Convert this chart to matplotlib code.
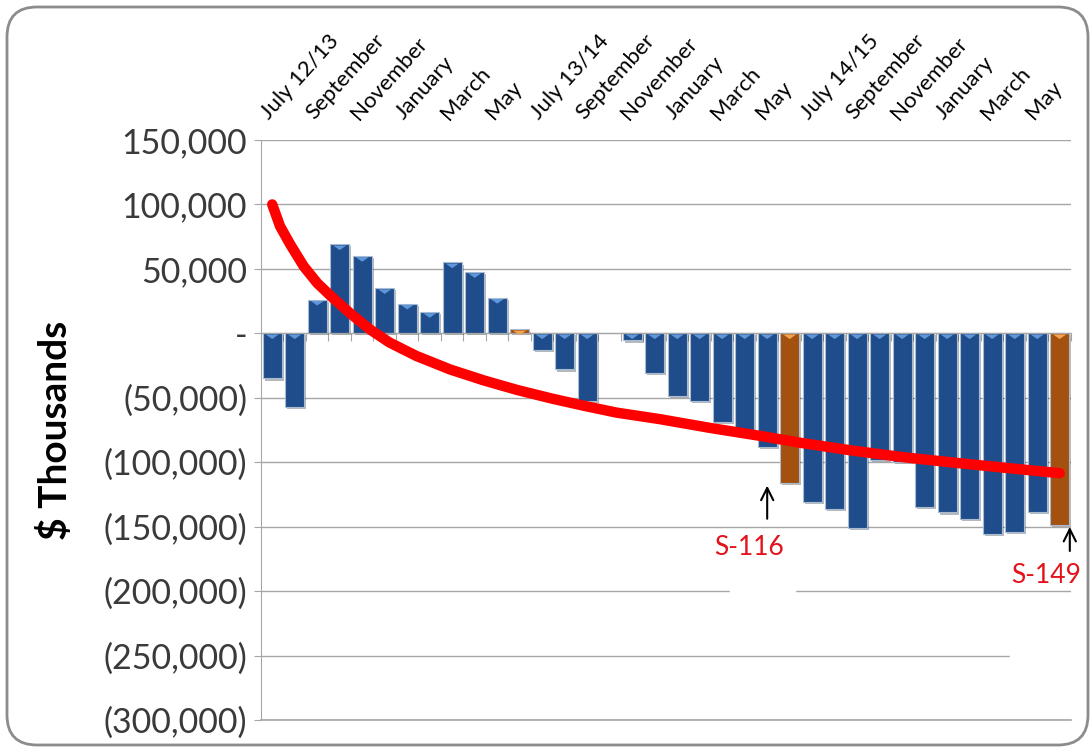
import matplotlib
matplotlib.use('Agg')
import matplotlib.pyplot as plt
import matplotlib.patheffects as pe
from matplotlib.patches import FancyBboxPatch, Rectangle
from matplotlib.ticker import FuncFormatter, FixedLocator
from matplotlib.transforms import offset_copy
import numpy as np

plt.rcParams['font.family'] = ['Lato', 'DejaVu Sans']

# 36 months, July 2012 .. June 2015
months = ['Jul', 'Aug', 'Sep', 'Oct', 'Nov', 'Dec', 'Jan', 'Feb', 'Mar', 'Apr', 'May', 'Jun'] * 3
top_labels = ['July 12/13', 'September', 'November', 'January', 'March', 'May',
              'July 13/14', 'September', 'November', 'January', 'March', 'May',
              'July 14/15', 'September', 'November', 'January', 'March', 'May']

# monthly balance, $ thousands (nan = no bar)
values = [-35000, -57000, 26000, 69000, 60000, 35000, 23000, 16500, 55000, 47500, 27500, 3000,
          -13000, -28000, -52500, np.nan, -5500, -31000, -48500, -52500, -69000, -75000, -88500, -116000,
          -131000, -136000, -151000, -98000, -100000, -134500, -139000, -144000, -156000, -154000, -138500, -149000]

# year-end months (June) drawn in orange
year_end = [11, 23, 35]

# red trend curve (month position, value)
trend_x = [0, 0.35, 0.8, 1.4, 2.0, 2.6, 3.5, 4.35, 5.2, 6.4, 7.9, 9.4, 10.9, 12.4,
           13.8, 15.3, 17.2, 19.5, 21.7, 23.5, 25.8, 28.0, 30.3, 32.5, 35.0]
trend_y = [100000, 83000, 69000, 52000, 39000, 29000, 15000, 3000, -7000, -17500, -28000, -36500, -44000, -50500,
           -56000, -61500, -66500, -73500, -79600, -85000, -91000, -96000, -100300, -104200, -108500]

blue = '#1f4d8b'
orange = '#a4500f'
grid_c = '#a6a6a6'

x = np.arange(len(values))
colors = [orange if i in year_end else blue for i in x]
light = ['#f0a555' if i in year_end else '#5f97da' for i in x]

fig = plt.figure(figsize=(10.91, 7.49), dpi=100)
ax = fig.add_axes([0.2392, 0.0387, 0.7424, 0.7744])

ax.bar(x, values, width=0.84, color=colors, edgecolor='#a9bbd0', linewidth=0.8,
       path_effects=[pe.SimplePatchShadow(offset=(1.5, -1.5), alpha=0.3), pe.Normal()], zorder=2)

# bevel highlight at the top of each bar
vals = np.array(values, dtype=float)
ok = ~np.isnan(vals)
tops = np.maximum(vals, 0)
tri = [(-1, 0), (1, 0), (0, -0.7)]
ax.scatter(x[ok], tops[ok], marker=tri, s=90, c=[light[i] for i in x[ok]], linewidths=0,
           transform=offset_copy(ax.transData, fig=fig, y=-0.8, units='points'), zorder=3)

ax.plot(trend_x, trend_y, color='#ff0000', lw=7.5, solid_capstyle='round',
        solid_joinstyle='round', zorder=5)

ax.set_xlim(-0.5, len(values) - 0.5)
ax.set_ylim(-300000, 150000)
ax.set_yticks(np.arange(-300000, 150001, 50000))


def fmt(v, pos):
    if v == 0:
        return '-'
    if v < 0:
        return '({:,.0f})'.format(-v)
    return '{:,.0f}'.format(v)


ax.yaxis.set_major_formatter(FuncFormatter(fmt))
ax.tick_params(axis='y', labelsize=24.5, labelcolor='#3a3a3a', color=grid_c, length=5, pad=5)
ax.yaxis.grid(True, color=grid_c, lw=1)
ax.axhline(-300000, color=grid_c, lw=1.2, clip_on=False, zorder=0.5)
ax.set_axisbelow(True)

for s in ['top', 'right']:
    ax.spines[s].set_visible(False)
ax.spines['left'].set_color(grid_c)
ax.spines['bottom'].set_position(('data', 0))
ax.spines['bottom'].set_color(grid_c)
ax.xaxis.set_major_locator(FixedLocator(np.arange(-0.5, len(values), 1)))
ax.tick_params(axis='x', labelbottom=False, color=grid_c, length=6, direction='out')

ax.set_ylabel('$ Thousands', fontsize=28, fontweight='bold', color='black')
ax.yaxis.set_label_coords(-0.232, 0.5)

secax = ax.secondary_xaxis('top')
secax.set_xticks(x[::2])
secax.set_xticklabels(top_labels, fontsize=16)
secax.tick_params(length=0, pad=12)
secax.spines['top'].set_visible(False)
for lbl in secax.get_xticklabels():
    lbl.set_rotation(48)
    lbl.set_ha('left')
    lbl.set_va('bottom')
    lbl.set_rotation_mode('anchor')

# white boxes that hide bits of the lower gridlines
ax.add_patch(Rectangle((20.35, -203000), 2.9, 6000, color='white', zorder=1))
ax.add_patch(Rectangle((32.8, -253000), 2.9, 6000, color='white', zorder=1, clip_on=False))

arrow = dict(arrowstyle='->', color='black', lw=1.5, mutation_scale=22)
ax.annotate('', xy=(22.0, -116000), xytext=(22.0, -146000), arrowprops=arrow, zorder=6)
ax.text(21.2, -166000, 'S-116', color='#e3121b', fontsize=19, ha='center', va='center')
ax.annotate('', xy=(35.45, -148000), xytext=(35.45, -171000), arrowprops=arrow,
            annotation_clip=False, zorder=6)
ax.text(34.4, -188000, 'S-149', color='#e3121b', fontsize=19, ha='center', va='center')

frame = FancyBboxPatch((0.07, 0.04), 10.81, 7.38, boxstyle='round,pad=0,rounding_size=0.3',
                       transform=fig.dpi_scale_trans, fill=False, ec='#8c8c8c', lw=2)
fig.add_artist(frame)

fig.savefig('out.png', dpi=100)
